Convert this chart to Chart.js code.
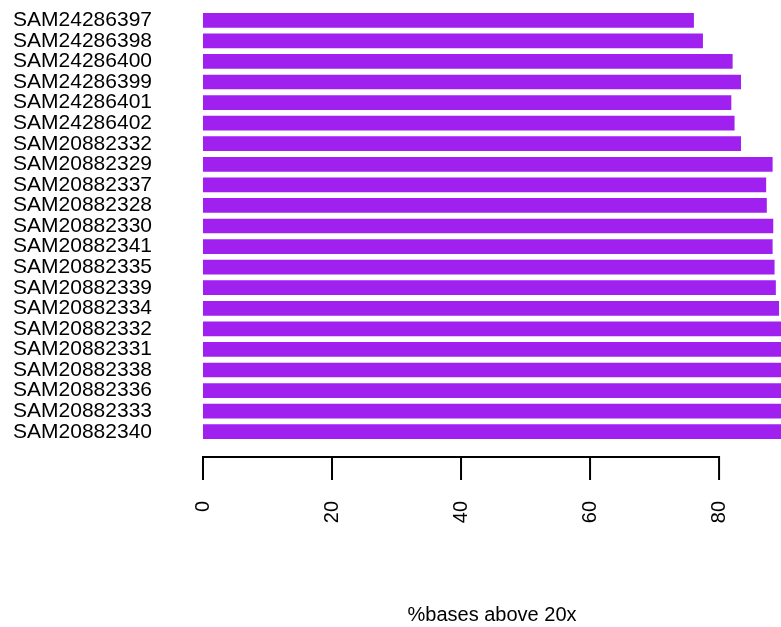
<!DOCTYPE html>
<html>
<head>
<meta charset="utf-8">
<title>%bases above 20x</title>
<script src="https://cdn.jsdelivr.net/npm/chart.js@4/dist/chart.umd.min.js"></script>
<style>
  html, body { margin: 0; padding: 0; background: #fff; }
  #chart { display: block; }
</style>
</head>
<body>
<canvas id="chart" width="781" height="627"></canvas>
<script>
const samples = [
  "SAM24286397", "SAM24286398", "SAM24286400", "SAM24286399", "SAM24286401",
  "SAM24286402", "SAM20882332", "SAM20882329", "SAM20882337", "SAM20882328",
  "SAM20882330", "SAM20882341", "SAM20882335", "SAM20882339", "SAM20882334",
  "SAM20882332", "SAM20882331", "SAM20882338", "SAM20882336", "SAM20882333",
  "SAM20882340",
];
const pctAbove20x = [
  76.1, 77.5, 82.1, 83.4, 81.9, 82.4, 83.4, 88.3, 87.3, 87.4,
  88.4, 88.3, 88.6, 88.8, 89.3, 90.2, 90.6, 91.0, 91.3, 91.7, 92.0,
];
const xTicks = [0, 20, 40, 60, 80];

const FONT = "'Liberation Sans', Arial, Helvetica, sans-serif";

// R style axis: line only spans first to last tick, set off below the bars
const rAxis = {
  id: "rAxis",
  afterDraw(chart) {
    const x = chart.scales.x;
    const ctx = chart.ctx;
    const y0 = chart.chartArea.bottom + 15;
    const y1 = y0 + 23;
    ctx.save();
    ctx.strokeStyle = "#000";
    ctx.lineWidth = 2;
    ctx.beginPath();
    ctx.moveTo(x.getPixelForValue(xTicks[0]), y0);
    ctx.lineTo(x.getPixelForValue(xTicks[xTicks.length - 1]), y0);
    xTicks.forEach((v) => {
      const px = x.getPixelForValue(v);
      ctx.moveTo(px, y0 - 1);
      ctx.lineTo(px, y1);
    });
    ctx.stroke();
    ctx.restore();
  },
};

// keep the plot box fixed, no extra room for overhanging labels
function noPadding(scale) {
  scale.paddingTop = 0;
  scale.paddingBottom = 0;
  scale.paddingLeft = 0;
  scale.paddingRight = 0;
}

new Chart(document.getElementById("chart"), {
  type: "bar",
  data: {
    labels: samples,
    datasets: [
      {
        data: pctAbove20x,
        backgroundColor: "#A020F0",
        borderWidth: 0,
        categoryPercentage: 1,
        barPercentage: 0.715,
      },
    ],
  },
  options: {
    indexAxis: "y",
    responsive: false,
    animation: false,
    layout: { padding: { top: 10, left: 0, right: 0, bottom: 0 } },
    plugins: {
      legend: { display: false },
      tooltip: { enabled: false },
    },
    scales: {
      x: {
        min: 0,
        max: 89.6,
        afterBuildTicks: (scale) => {
          scale.ticks = xTicks.map((v) => ({ value: v }));
        },
        afterFit: (scale) => {
          scale.height = 185;
          noPadding(scale);
        },
        grid: { display: false, drawTicks: false },
        border: { display: false },
        ticks: {
          minRotation: 90,
          maxRotation: 90,
          padding: 59,
          color: "#000",
          font: { family: FONT, size: 20 },
        },
        title: {
          display: true,
          text: "%bases above 20x",
          color: "#000",
          padding: { top: 0, bottom: 0 },
          font: { family: FONT, size: 20 },
        },
      },
      y: {
        afterFit: (scale) => {
          scale.width = 203;
          noPadding(scale);
        },
        grid: { display: false, drawTicks: false },
        border: { display: false },
        ticks: {
          padding: 51,
          autoSkip: false,
          color: "#000",
          font: { family: FONT, size: 21 },
        },
      },
    },
  },
  plugins: [rAxis],
});
</script>
</body>
</html>
